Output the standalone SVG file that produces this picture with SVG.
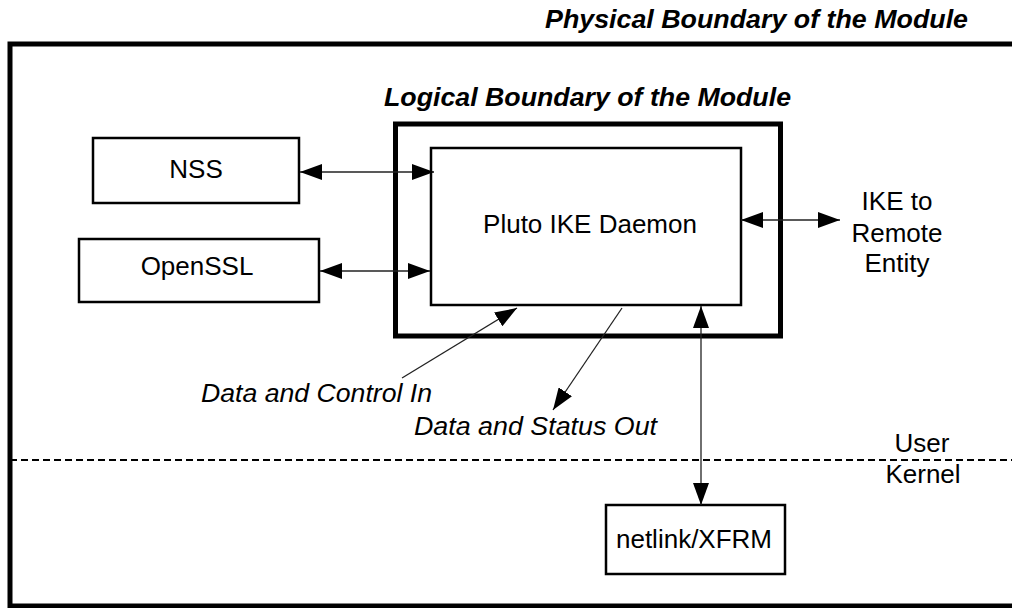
<svg xmlns="http://www.w3.org/2000/svg" width="1012" height="608" viewBox="0 0 1012 608">
  <style>
    .t { font-family: "Liberation Sans", Arial, sans-serif; font-size: 26px; fill: #000; }
    .c { text-anchor: middle; }
    .bi { font-weight: bold; font-style: italic; }
    .i { font-style: italic; }
    .box { fill: #fff; stroke: #000; stroke-width: 2.5; }
    .bound { fill: none; stroke: #000; stroke-width: 5; }
    .conn { fill: none; stroke: #222; stroke-width: 1.3; }
  </style>
  <defs>
    <marker id="ah" viewBox="0 0 22 16" refX="22" refY="8" markerWidth="22" markerHeight="16" markerUnits="userSpaceOnUse" orient="auto-start-reverse">
      <path d="M0,0 L22,8 L0,16 z" fill="#000"/>
    </marker>
  </defs>
  <rect width="1012" height="608" fill="#fff"/>

  <g id="physical-boundary">
    <rect class="bound" x="10" y="44" width="1012" height="562"/>
    <text class="t bi" x="545" y="28" textLength="423" lengthAdjust="spacingAndGlyphs">Physical Boundary of the Module</text>
  </g>

  <g id="user-kernel">
    <line x1="10" y1="460" x2="1012" y2="460" stroke="#000" stroke-width="2" stroke-dasharray="7,4"/>
    <text class="t c" x="922" y="452">User</text>
    <text class="t c" x="923" y="483">Kernel</text>
  </g>

  <g id="logical-boundary">
    <rect class="bound" x="395.5" y="124" width="385" height="212"/>
    <text class="t bi" x="384" y="106" textLength="407" lengthAdjust="spacingAndGlyphs">Logical Boundary of the Module</text>
  </g>

  <g id="pluto">
    <rect class="box" x="431" y="148" width="310" height="157"/>
    <text class="t c" x="590" y="233">Pluto IKE Daemon</text>
  </g>

  <g id="nss">
    <rect class="box" x="93" y="138" width="206" height="65"/>
    <text class="t c" x="196" y="178">NSS</text>
  </g>

  <g id="openssl">
    <rect class="box" x="79" y="239" width="240" height="63"/>
    <text class="t c" x="197" y="275">OpenSSL</text>
  </g>

  <g id="netlink">
    <rect class="box" x="606" y="505" width="179" height="69"/>
    <text class="t c" x="694" y="548">netlink/XFRM</text>
  </g>

  <g id="ike-remote">
    <text class="t c" x="897" y="210">IKE to</text>
    <text class="t c" x="897" y="242">Remote</text>
    <text class="t c" x="897" y="272">Entity</text>
  </g>

  <g id="labels">
    <text class="t i" x="201" y="402" textLength="231" lengthAdjust="spacingAndGlyphs">Data and Control In</text>
    <text class="t i" x="414" y="435" textLength="243" lengthAdjust="spacingAndGlyphs">Data and Status Out</text>
  </g>

  <g id="connectors">
    <path class="conn" d="M300,172 L434,172" marker-start="url(#ah)" marker-end="url(#ah)"/>
    <path class="conn" d="M320,271 L430,271" marker-start="url(#ah)" marker-end="url(#ah)"/>
    <path class="conn" d="M741,220 L840,220" marker-start="url(#ah)" marker-end="url(#ah)"/>
    <path class="conn" d="M701,306 L701,505" marker-start="url(#ah)" marker-end="url(#ah)"/>
    <path class="conn" d="M402,378 L517,308" marker-end="url(#ah)"/>
    <path class="conn" d="M622,308 L553,410" marker-end="url(#ah)"/>
  </g>
</svg>
